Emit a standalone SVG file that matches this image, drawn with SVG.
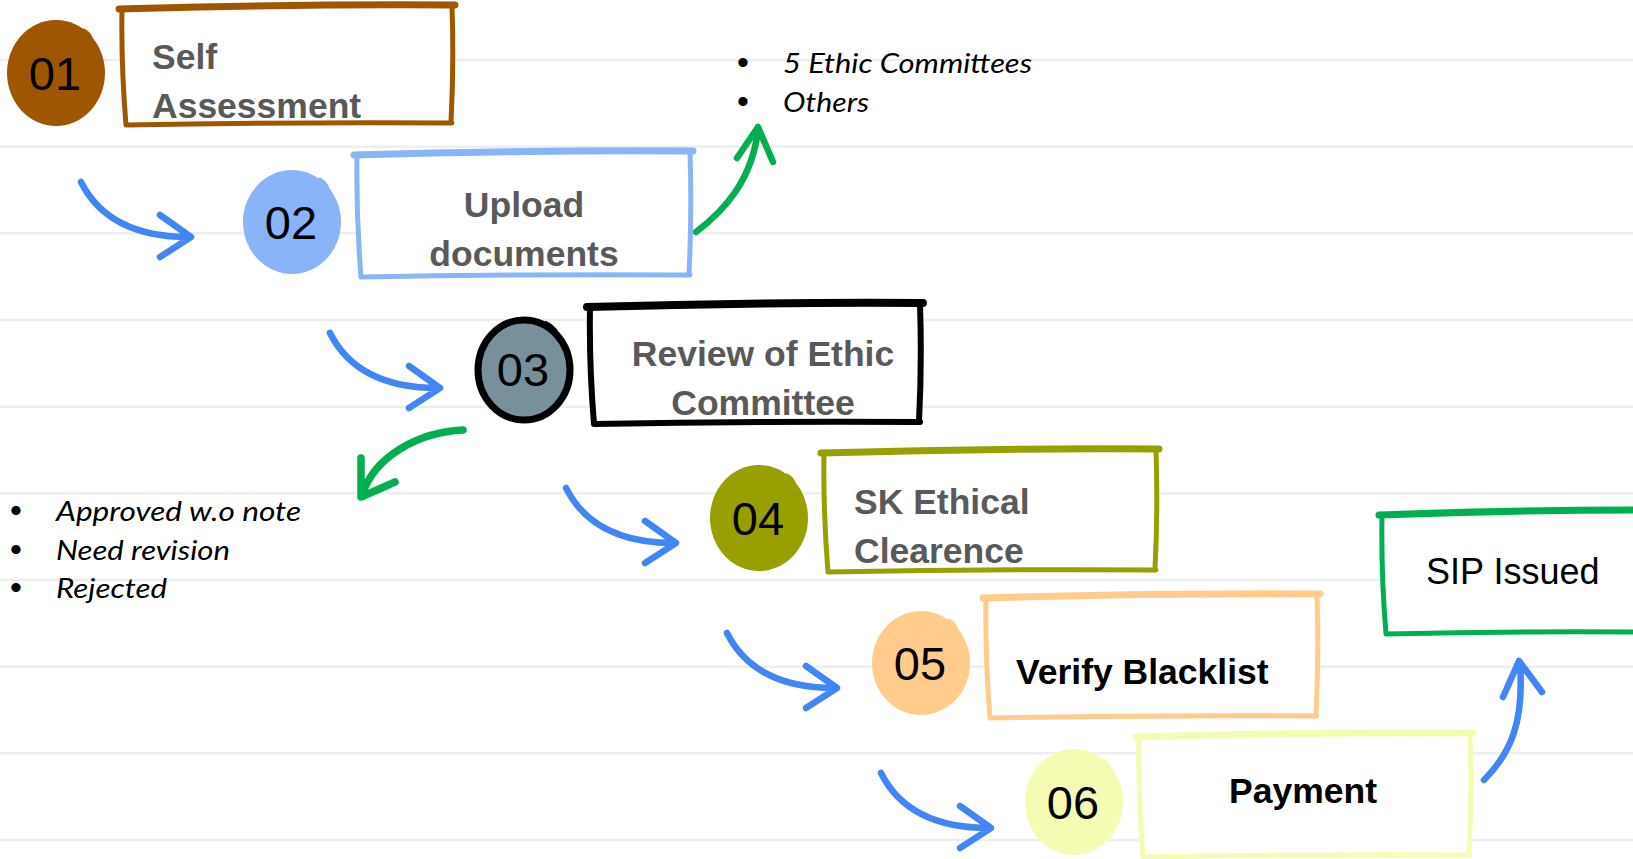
<svg xmlns="http://www.w3.org/2000/svg" width="1633" height="859" viewBox="0 0 1633 859">
<defs>
<style>
.rule{stroke:#EEEEEE;stroke-width:2.5}
.fillw{fill:#FFFFFF;stroke:none}
.edge{fill:none;stroke-width:5;stroke-linecap:round;stroke-linejoin:round}
.topedge{fill:none;stroke-width:7;stroke-linecap:round}
.lbl{font-family:"Liberation Sans",Arial,sans-serif;font-weight:bold;font-size:35.5px;fill:#595959}
.dark{fill:#000000}
.num{font-family:"Liberation Sans",Arial,sans-serif;font-size:47px;fill:#000000;text-anchor:middle}
.mid{text-anchor:middle}
.note{font-family:Lato,"Open Sans",sans-serif;font-style:italic;font-size:26.5px;fill:#000000}
.bul{font-family:"Liberation Sans",Arial,sans-serif;font-style:normal;font-size:34px}
.arrow{fill:none;stroke-width:6.5;stroke-linecap:round;stroke-linejoin:round}
.blue{stroke:#4285F4}
.green{stroke:#00B050}
</style>
<path id="bend" d="M0,0 C15,30 45,55 108,55 M79,33 L110,55 L79,75"/>
</defs>
<rect x="0" y="0" width="1633" height="859" fill="#FFFFFF"/>
<g id="rules">
<line class="rule" x1="0" y1="60" x2="1633" y2="60"/>
<line class="rule" x1="0" y1="146.7" x2="1633" y2="146.7"/>
<line class="rule" x1="0" y1="233.3" x2="1633" y2="233.3"/>
<line class="rule" x1="0" y1="320" x2="1633" y2="320"/>
<line class="rule" x1="0" y1="406.7" x2="1633" y2="406.7"/>
<line class="rule" x1="0" y1="493.3" x2="1633" y2="493.3"/>
<line class="rule" x1="0" y1="580" x2="1633" y2="580"/>
<line class="rule" x1="0" y1="666.7" x2="1633" y2="666.7"/>
<line class="rule" x1="0" y1="753.3" x2="1633" y2="753.3"/>
<line class="rule" x1="0" y1="840" x2="1633" y2="840"/>
</g>
<g id="connectors">
<use href="#bend" class="arrow blue" transform="translate(81,182)"/>
<use href="#bend" class="arrow blue" transform="translate(330,333)"/>
<use href="#bend" class="arrow blue" transform="translate(566,488)"/>
<use href="#bend" class="arrow blue" transform="translate(727,633)"/>
<use href="#bend" class="arrow blue" transform="translate(881,773)"/>
<path class="arrow blue" d="M1484,780 C1512,752 1524,720 1520,664 M1503,697 L1519,661 L1542,692"/>
<path class="arrow green" d="M696,232 C725,210 752,180 758,130 M737,158 L758,127 L773,162"/>
<path class="arrow green" d="M463,430 C420,432 375,455 362,495 M361,458 L361,497 L395,482" style="stroke-width:7.5"/>
</g>
<g id="node01">
<ellipse cx="56" cy="73" rx="49" ry="53" fill="#9E5700"/>
<path d="M84,30 Q90,33 92,40" fill="none" stroke="#9E5700" stroke-width="3" stroke-linecap="round"/>
<text class="num" x="55" y="90">01</text>
<rect class="fillw" x="122" y="6" width="331" height="118"/>
<path class="edge" stroke="#9E5700" d="M452,6 Q454,65 451,122 M126,125 Q288,122 452,123 M122,9 Q121,65 126,125"/>
<path class="topedge" stroke="#9E5700" d="M119,9 Q288,4 455,5"/>
<text class="lbl" x="152" y="69">Self</text>
<text class="lbl" x="152" y="118">Assessment</text>
</g>
<g id="node02">
<ellipse cx="292" cy="222" rx="49" ry="52" fill="#8AB4F8"/>
<path d="M320,179 Q326,182 328,189" fill="none" stroke="#8AB4F8" stroke-width="3" stroke-linecap="round"/>
<text class="num" x="291" y="239">02</text>
<rect class="fillw" x="357" y="152" width="334" height="124"/>
<path class="edge" stroke="#8AB4F8" d="M690,152 Q692,214 689,274 M361,277 Q524,274 690,275 M357,155 Q356,214 361,277"/>
<path class="topedge" stroke="#8AB4F8" d="M354,155 Q524,150 693,151"/>
<text class="lbl mid" x="524" y="217">Upload</text>
<text class="lbl mid" x="524" y="266">documents</text>
</g>
<g id="node03">
<ellipse cx="524" cy="370" rx="46" ry="50" fill="#78909C" stroke="#000000" stroke-width="7"/>
<path d="M546,323 Q557,328 559,340" fill="none" stroke="#000000" stroke-width="4" stroke-linecap="round"/>
<text class="num" x="523" y="386">03</text>
<rect class="fillw" x="590" y="304" width="331" height="119"/>
<path class="edge" stroke="#000000" style="stroke-width:6" d="M920,304 Q922,364 919,421 M594,424 Q756,421 920,422 M590,307 Q589,364 594,424"/>
<path class="topedge" stroke="#000000" style="stroke-width:8" d="M587,307 Q756,302 923,303"/>
<text class="lbl mid" x="763" y="366">Review of Ethic</text>
<text class="lbl mid" x="763" y="415">Committee</text>
</g>
<g id="node04">
<ellipse cx="759" cy="518" rx="49" ry="53" fill="#97A000"/>
<path d="M787,475 Q793,478 795,485" fill="none" stroke="#97A000" stroke-width="3" stroke-linecap="round"/>
<text class="num" x="758" y="535">04</text>
<rect class="fillw" x="824" y="450" width="333" height="121"/>
<path class="edge" stroke="#97A000" d="M1156,450 Q1158,510 1155,569 M828,572 Q990,569 1156,570 M824,453 Q823,510 828,572"/>
<path class="topedge" stroke="#97A000" d="M821,453 Q990,448 1159,449"/>
<text class="lbl" x="854" y="514">SK Ethical</text>
<text class="lbl" x="854" y="563">Clearence</text>
</g>
<g id="node05">
<ellipse cx="921" cy="663" rx="49" ry="52" fill="#FFCC8C"/>
<path d="M949,620 Q955,623 957,630" fill="none" stroke="#FFCC8C" stroke-width="3" stroke-linecap="round"/>
<text class="num" x="920" y="680">05</text>
<rect class="fillw" x="986" y="595" width="332" height="122"/>
<path class="edge" stroke="#FFCC8C" d="M1317,595 Q1319,656 1316,715 M990,718 Q1152,715 1317,716 M986,598 Q985,656 990,718"/>
<path class="topedge" stroke="#FFCC8C" d="M983,598 Q1152,593 1320,594"/>
<text class="lbl dark" x="1016" y="684">Verify Blacklist</text>
</g>
<g id="node06">
<ellipse cx="1074" cy="802" rx="49" ry="53" fill="#F5FBB3"/>
<path d="M1102,759 Q1108,762 1110,769" fill="none" stroke="#F5FBB3" stroke-width="3" stroke-linecap="round"/>
<text class="num" x="1073" y="819">06</text>
<rect class="fillw" x="1139" y="734" width="332" height="122"/>
<path class="edge" stroke="#F5FBB3" d="M1470,734 Q1472,795 1469,854 M1143,857 Q1305,854 1470,855 M1139,737 Q1138,795 1143,857"/>
<path class="topedge" stroke="#F5FBB3" d="M1136,737 Q1305,732 1473,733"/>
<text class="lbl dark mid" x="1303" y="803">Payment</text>
</g>
<g id="nodeSIP">
<rect class="fillw" x="1382" y="512" width="260" height="121"/>
<path class="edge" stroke="#00B050" d="M1386,634 Q1510,631 1640,632 M1382,515 Q1381,574 1386,634"/>
<path class="topedge" stroke="#00B050" d="M1379,515 Q1510,510 1640,510"/>
<text x="1426" y="584" style="font-family:'Liberation Sans',Arial,sans-serif;font-size:36px;fill:#000000">SIP Issued</text>
</g>
<g id="note-upload">
<text class="note"><tspan class="bul" x="737" y="74">•</tspan><tspan x="783" y="73" textLength="249" lengthAdjust="spacingAndGlyphs">5 Ethic Committees</tspan></text>
<text class="note"><tspan class="bul" x="737" y="113">•</tspan><tspan x="783" y="112" textLength="86" lengthAdjust="spacingAndGlyphs">Others</tspan></text>
</g>
<g id="note-review">
<text class="note"><tspan class="bul" x="10" y="522">•</tspan><tspan x="56" y="521" textLength="245" lengthAdjust="spacingAndGlyphs">Approved w.o note</tspan></text>
<text class="note"><tspan class="bul" x="10" y="561">•</tspan><tspan x="56" y="560" textLength="174" lengthAdjust="spacingAndGlyphs">Need revision</tspan></text>
<text class="note"><tspan class="bul" x="10" y="599">•</tspan><tspan x="56" y="598" textLength="111" lengthAdjust="spacingAndGlyphs">Rejected</tspan></text>
</g>
</svg>
